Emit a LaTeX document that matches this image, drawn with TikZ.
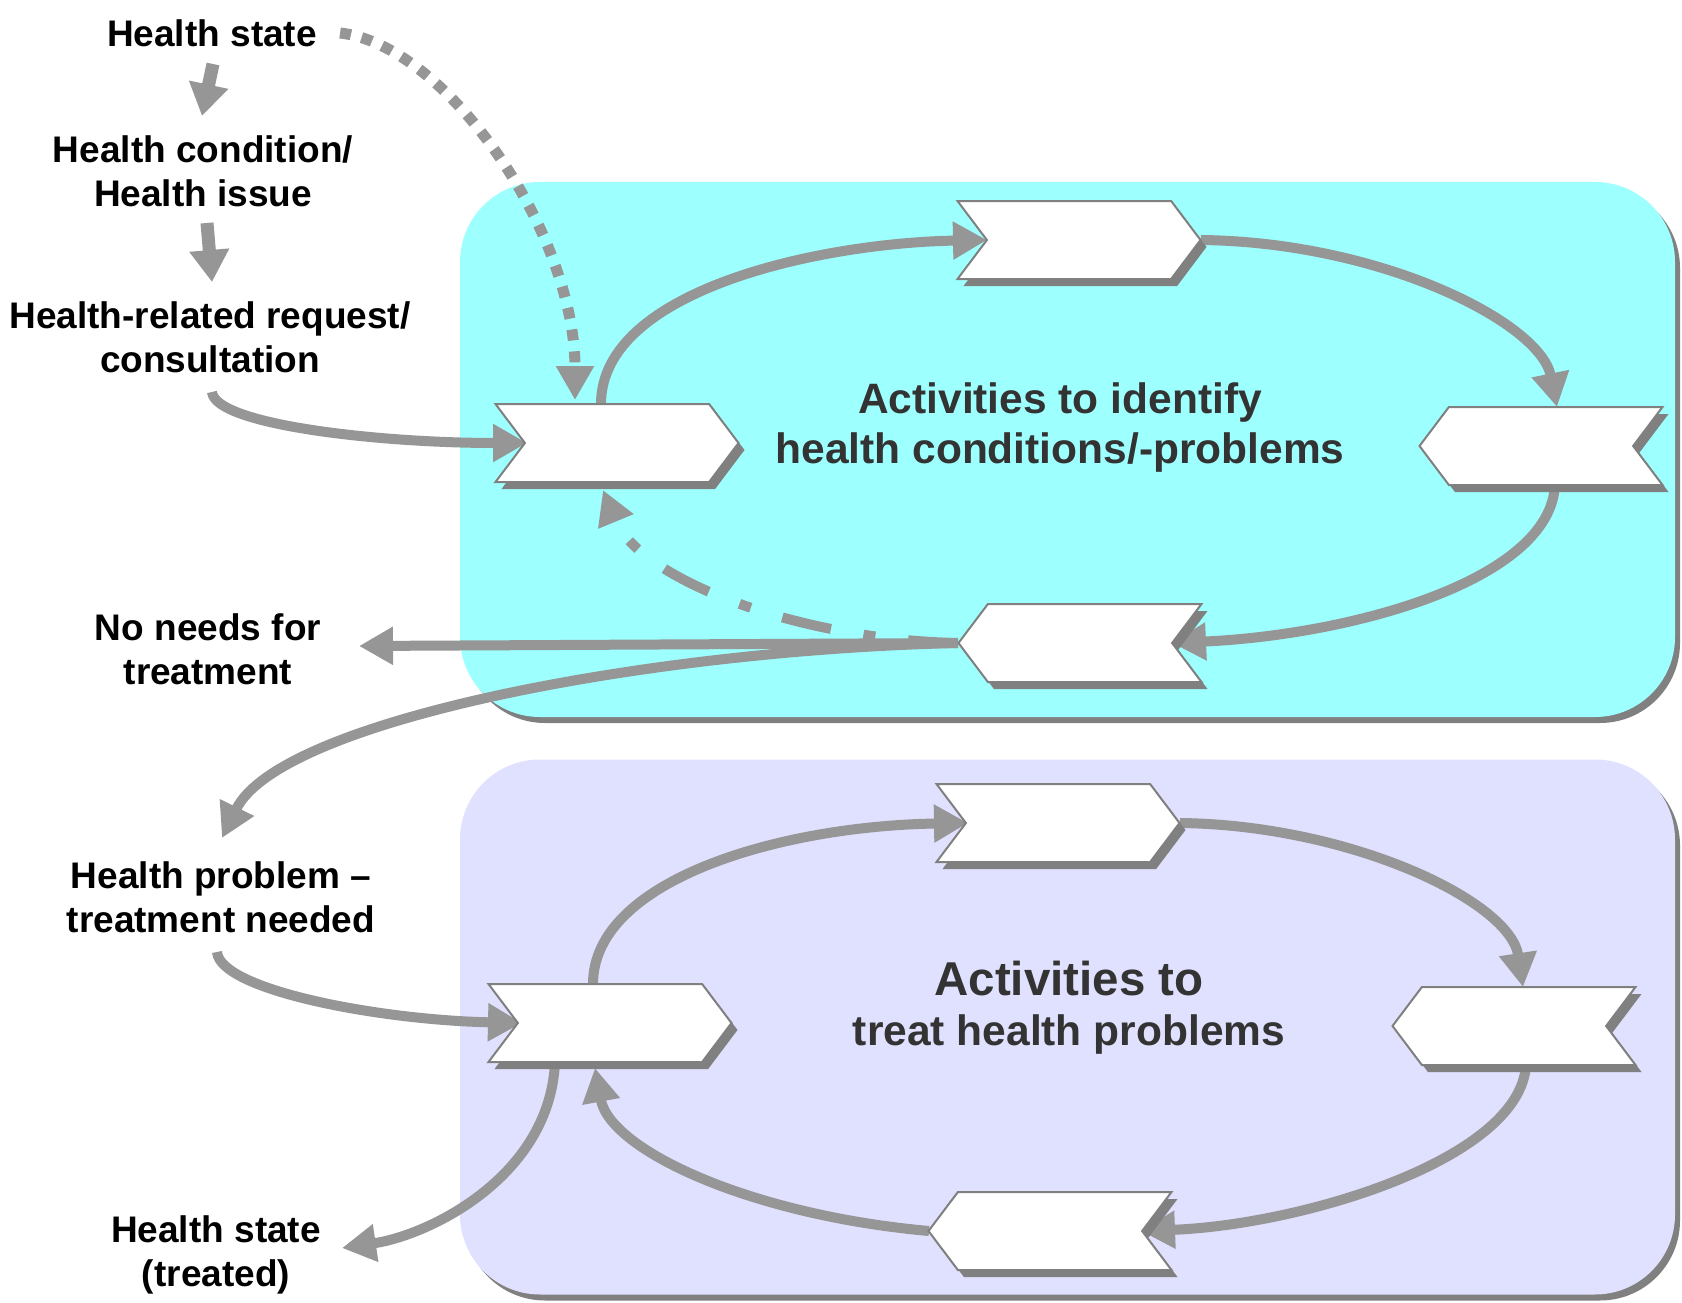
\documentclass[tikz,border=0pt]{standalone}
\usepackage{fontspec}
\setmainfont{Liberation Sans}
\usetikzlibrary{arrows.meta,shapes.symbols,shadows,calc}
\definecolor{vcyan}{HTML}{9EFFFF}
\definecolor{vlilac}{HTML}{E0E0FF}
\definecolor{vshadow}{HTML}{808080}
\definecolor{varrow}{HTML}{969696}
\definecolor{vtext}{HTML}{333333}
\pgfdeclarelayer{boxes}
\pgfdeclarelayer{flows}
\pgfsetlayers{boxes,flows,main}

\begin{document}
\begin{tikzpicture}[x=1pt, y=-1pt,
	area/.style={rounded corners=80pt, minimum width=1215pt, minimum height=535pt, inner sep=0pt,
		drop shadow={shadow xshift=5pt, shadow yshift=-6pt, fill=vshadow, opacity=1}},
	chev/.style={signal, signal pointer angle=106, draw=vshadow, line width=2pt, fill=white,
		minimum width=243pt, minimum height=78pt, inner sep=0pt, outer sep=0pt,
		drop shadow={shadow xshift=6pt, shadow yshift=-7pt, fill=vshadow, opacity=1}},
	chevR/.style={chev, signal from=west, signal to=east},
	chevL/.style={chev, signal from=east, signal to=west},
	statetext/.style={align=center, inner sep=0pt, font=\bfseries\fontsize{37}{44}\selectfont},
	boxtext/.style={align=center, inner sep=0pt, text=vtext, font=\bfseries\fontsize{42.5}{50}\selectfont},
	flow/.style={draw=varrow, line width=10pt, -{Triangle[width=36pt, length=34pt]}},
	shortflow/.style={flow, line width=13pt, -{Triangle[width=38pt, length=32pt]}},
	dotflow/.style={flow, line width=11pt, dash pattern=on 11pt off 11pt},
	dashdotflow/.style={flow, dash pattern=on 50pt off 33pt on 12pt off 33pt}]
	\useasboundingbox (0,0) rectangle (1682,1303);
	\begin{pgfonlayer}{boxes}
		\fill[white] (0,0) rectangle (1682,1303);
		\node[area, fill=vcyan] (IDBOX) at (1067.5,449.5) {};
		\node[area, fill=vlilac] (TRBOX) at (1067.5,1027) {};
	\end{pgfonlayer}
	\node[chevR] (I1) at (617,443) {};
	\node[chevR] (I2) at (1079,240) {};
	\node[chevL] (I3) at (1541,446) {};
	\node[chevL] (I4) at (1080,643) {};
	\node[chevR] (T1) at (610,1023) {};
	\node[chevR] (T2) at (1058,823) {};
	\node[chevL] (T3) at (1514,1026) {};
	\node[chevL] (T4) at (1050,1231) {};
	\node[boxtext] (IDT) at (1060,428) {Activities to identify\\health conditions/-problems};
	\node[boxtext] (TRT) at (1069,1008) {{\fontsize{47.5}{54}\selectfont Activities to}\\treat health problems};
	\node[statetext] (HS) at (212,33) {Health state};
	\node[statetext] (HC) at (203,171) {Health condition/\\Health issue};
	\node[statetext] (HR) at (210,337) {Health-related request/\\consultation};
	\node[statetext] (NN) at (208,649) {No needs for\\treatment};
	\node[statetext] (HP) at (221,897) {Health problem –\\treatment needed};
	\node[statetext] (HT) at (216,1255) {Health state\\(treated)};
	\begin{pgfonlayer}{flows}
		\draw[shortflow] ($(HS.center)+(1,31)$) -- ($(HC.center)+(-1,-55)$);
		\draw[shortflow] ($(HC.center)+(4,52)$) -- ($(HR.center)+(2,-55)$);
		\draw[flow] ($(HR.center)+(2,55)$) .. controls +(3,33) and +(-147,0) .. ($(I1.center)+(-90,0)$);
		\draw[dotflow] ($(HS.east)+(23,0)$) .. controls +(107,12) and +(0,-167) .. ($(I1.north)+(-42,-4)$);
		\draw[flow] ($(I1.north)+(-16,0)$) .. controls +(0,-114) and +(-167,3) .. ($(I2.center)+(-92,0)$);
		\draw[flow] ($(I2.center)+(122,0)$) .. controls +(179,2) and +(-17,-85) .. ($(I3.north)+(16,0)$);
		\draw[flow] ($(I3.south)+(14,0)$) .. controls +(-5,96) and +(178,-8) .. ($(I4.center)+(92,0)$);
		\draw[dashdotflow] ($(I4.center)+(-122,0)$) .. controls +(-158,-3) and +(37,90) .. ($(I1.south)+(-14,8)$);
		\draw[flow] ($(I4.center)+(-122,0)$) -- ($(NN.center)+(151,-3)$);
		\draw[flow] ($(I4.center)+(-122,0)$) .. controls +(-308,7) and +(58,-118) .. ($(HP.center)+(1,-59)$);
		\draw[flow] ($(HP.center)+(-4,55)$) .. controls +(3,38) and +(-143,-3) .. ($(T1.center)+(-88,0)$);
		\draw[flow] ($(T1.north)+(-17,0)$) .. controls +(0,-104) and +(-188,3) .. ($(T2.center)+(-90,0)$);
		\draw[flow] ($(T2.center)+(122,0)$) .. controls +(170,2) and +(-13,-86) .. ($(T3.north)+(9,0)$);
		\draw[flow] ($(T3.south)+(12,0)$) .. controls +(-6,95) and +(159,-6) .. ($(T4.center)+(91,0)$);
		\draw[flow] ($(T4.center)+(-121,0)$) .. controls +(-179,-16) and +(15,82) .. ($(T1.south)+(-15,6)$);
		\draw[flow] ($(T1.south)+(-55,0)$) .. controls +(-5,114) and +(88,-13) .. ($(HT.center)+(126,-7)$);
	\end{pgfonlayer}
\end{tikzpicture}
\end{document}
